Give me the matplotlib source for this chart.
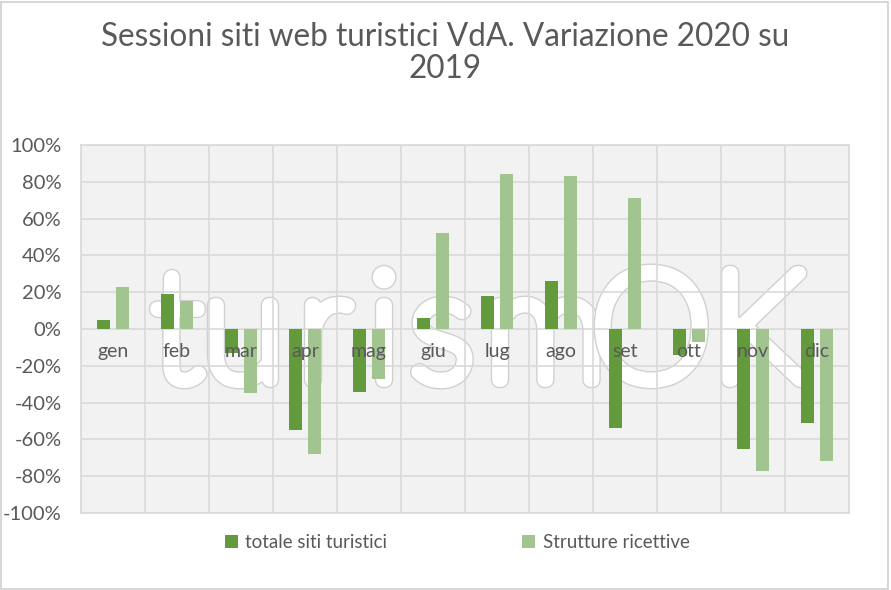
import numpy as np
import matplotlib
matplotlib.use('Agg')
import matplotlib.pyplot as plt
import matplotlib.patheffects as pe
from matplotlib.patches import Rectangle

months = ['gen', 'feb', 'mar', 'apr', 'mag', 'giu', 'lug', 'ago', 'set', 'ott', 'nov', 'dic']
totale_siti = [5, 19, -13, -55, -34, 6, 18, 26, -54, -14, -65, -51]
strutture = [23, 15, -35, -68, -27, 52, 84, 83, 71, -7, -77, -72]
yticks = [-100, -80, -60, -40, -20, 0, 20, 40, 60, 80, 100]

dark = '#629A3C'
light = '#A1C490'
txt = '#595959'
font = ['Lato', 'DejaVu Sans']

fig = plt.figure(figsize=(8.91, 5.90), dpi=100)
fig.patches.append(Rectangle((0.001, 0.002), 0.996, 0.995, transform=fig.transFigure,
                             fill=False, edgecolor='#D0D0D0', lw=1.2))

ax = fig.add_axes([0.0909, 0.1305, 0.862, 0.6237])
ax.set_facecolor('#F2F2F2')
x = np.arange(len(months))
w = 0.2
ax.bar(x - 0.145, totale_siti, width=w, color=dark, zorder=3, label='totale siti turistici')
ax.bar(x + 0.145, strutture, width=w, color=light, zorder=3, label='Strutture ricettive')

ax.set_xlim(-0.5, len(months) - 0.5)
ax.set_ylim(-100, 100)
ax.set_yticks(yticks)
ax.set_yticklabels([f'{v}%' for v in yticks], fontsize=14.5, color=txt, family=font)
ax.set_xticks(np.arange(len(months) + 1) - 0.5)
ax.set_xticklabels([])
ax.tick_params(length=0, pad=14)
ax.grid(True, color='#D9D9D9', lw=1.2)
for s in ax.spines.values():
    s.set_color('#D9D9D9')
    s.set_linewidth(1.2)
# month names sit just under the zero line, as in the original
for i, m in enumerate(months):
    ax.text(i, -7.5, m, ha='center', va='top', fontsize=14, color=txt, family=font, zorder=5)

# watermark logo (white letters, grey outline) under grid and bars
logo = [('t', 0.199), ('u', 0.273), ('r', 0.364), ('i', 0.431), ('s', 0.496),
        ('m', 0.612), ('O', 0.731), ('K', 0.851)]
for ch, xf in logo:
    ax.text(xf, 0.356, ch, transform=fig.transFigure, ha='center', va='baseline',
            fontsize=110, color='white', family=font, fontweight='light', zorder=1,
            clip_on=False,
            path_effects=[pe.withStroke(linewidth=12, foreground='#D0D0D0'),
                          pe.withStroke(linewidth=10, foreground='white'), pe.Normal()])

fig.suptitle('Sessioni siti web turistici VdA. Variazione 2020 su\n2019', y=0.962, fontsize=22.7,
             color=txt, family=font, linespacing=1.05)
fig.legend(loc='center', bbox_to_anchor=(0.513, 0.08), ncol=2, frameon=False,
           handlelength=0.7, handleheight=0.7, columnspacing=7.2, handletextpad=0.4,
           prop={'family': font, 'size': 13.5}, labelcolor=txt)

fig.savefig('out.png', dpi=100)
